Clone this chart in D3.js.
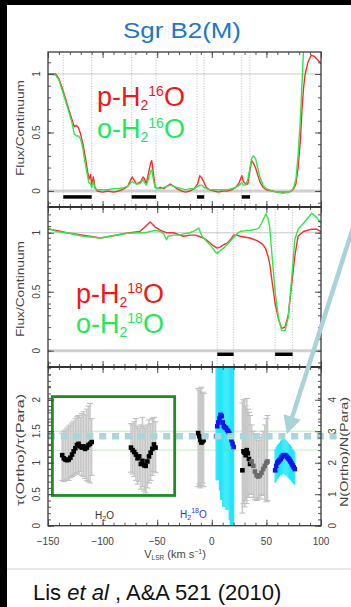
<!DOCTYPE html>
<html><head><meta charset="utf-8">
<script src="https://cdn.jsdelivr.net/npm/d3@7"></script>
<style>body{margin:0;background:#fff;} svg{display:block;font-family:"Liberation Sans",Arial,sans-serif;}</style>
</head><body><svg id="c" width="351" height="607"></svg>
<script>
// ---------- DATA ----------
const title = "Sgr B2(M)";
const vel16 = [-150,-143,-140,-137,-134,-131,-128,-126,-124,-122,
  -120,-118,-116,-114,-112.5,-111,-110,-108.5,-107,-105,
  -100,-95,-90,-85,-80,-77,-75,-73,-71,-69,
  -67,-65,-63,-62,-60,-58,-56,-55,-53.5,-52,
  -50,-47,-44,-41,-38,-35,-32,-28,-24,-20,
  -16,-13,-11,-9,-7,-5,-2,2,6,10,
  14,18,22,25,27.5,29,31,33,35,36.5,
  38,40,42,44,47,50,55,60,65,70,
  73,75,77,79,81,82.5,84,85.5,88,91,
  94,97,100];
const pH2_16O = [1.0,1.0,0.96,0.88,0.79,0.7,0.61,0.55,0.56,0.54,
  0.48,0.4,0.3,0.18,0.1,0.14,0.05,0.12,0.03,0.0,
  -0.01,0.0,-0.01,0.0,0.02,0.04,0.08,0.12,0.09,0.06,
  0.07,0.08,0.12,0.11,0.06,0.15,0.24,0.26,0.15,0.04,
  0.02,0.03,0.02,0.04,0.06,0.04,0.02,0.0,-0.01,0.0,
  0.02,0.06,0.13,0.11,0.07,0.03,0.01,0.0,-0.01,0.0,
  0.0,0.01,0.03,0.07,0.13,0.08,0.06,0.06,0.18,0.26,
  0.24,0.2,0.14,0.08,0.03,0.01,0.0,-0.01,-0.01,-0.01,
  0.0,0.02,0.06,0.2,0.42,0.68,0.88,1.0,1.1,1.16,
  1.15,1.12,1.09];
const oH2_16O = [1.0,0.99,0.95,0.86,0.77,0.68,0.58,0.49,0.47,0.47,
  0.44,0.36,0.24,0.14,0.07,0.06,0.03,0.08,0.02,0.01,
  0.01,0.01,0.02,0.02,0.03,0.04,0.06,0.08,0.07,0.06,
  0.06,0.07,0.1,0.08,0.05,0.1,0.17,0.18,0.1,0.03,
  0.02,0.02,0.03,0.04,0.05,0.04,0.03,0.02,0.01,0.02,
  0.02,0.04,0.05,0.05,0.03,0.02,0.01,0.01,0.01,0.01,
  0.01,0.02,0.03,0.05,0.07,0.05,0.05,0.1,0.2,0.28,
  0.3,0.28,0.2,0.12,0.05,0.02,0.0,-0.01,-0.02,-0.01,
  0.0,0.03,0.1,0.3,0.6,0.9,1.2,1.4,1.5,1.5,
  1.5,1.5,1.5];
const vel18 = [-150,-142,-133,-118,-102,-93,-78,-66,-61,-56.5,
  -52,-47,-44,-41.5,-40,-35,-29,-26,-20,-15,
  -12,-9,-5,0,3,5,8,11,14,17,
  20,23,26,32,35,41,43,45.5,47.5,49.5,
  51.5,53,55,58,61,64,67,70,73,76,
  79,84,91.5,96,100];
const pH2_18O = [1.03,1.02,1.0,0.98,0.955,0.97,0.995,1.01,1.05,1.09,
  1.05,1.02,1.01,1.0,1.0,1.0,0.98,0.97,0.98,0.98,
  0.97,0.96,0.94,0.9,0.88,0.87,0.88,0.9,0.91,0.94,
  0.98,0.98,0.97,0.96,0.955,0.935,0.925,0.91,0.89,0.86,
  0.8,0.74,0.6,0.4,0.27,0.19,0.2,0.3,0.55,0.8,
  0.97,1.01,1.03,1.03,1.01];
const oH2_18O = [1.04,1.01,1.0,0.97,0.955,0.97,0.995,1.0,1.0,1.01,
  1.02,1.01,0.99,0.94,0.97,0.98,0.98,0.99,1.0,1.02,
  1.04,0.97,0.93,0.88,0.84,0.825,0.85,0.87,0.9,0.93,
  0.96,0.99,1.01,1.02,1.02,1.03,1.04,1.08,1.12,1.16,
  1.12,1.05,0.82,0.5,0.28,0.17,0.17,0.28,0.6,0.94,
  1.03,1.08,1.165,1.13,1.08];
const ranges16 = [[-136,-110],[-73.4,-51],[-13.5,-7],[27.4,35]];
const ranges18 = [[5,20],[58,74]];

// ratio panel: H2O groups (black/grey) and H2-18O groups (blue)
const vA = [-137,-135.5,-134,-132.5,-131,-129.5,-128,-126.5,-125,-123.5,-122,-120.5,-119,-117.5,-116,-114.5,-113,-111.5,-110];
const tA = [1.12,1.07,1.05,1.04,1.05,1.08,1.13,1.18,1.23,1.28,1.3,1.26,1.24,1.26,1.22,1.24,1.28,1.3,1.33];
const hiA = [1.47,1.5,1.52,1.55,1.58,1.6,1.63,1.66,1.7,1.73,1.75,1.72,1.78,1.81,1.76,1.85,1.9,1.94,1.7];
const loA = [0.72,0.7,0.72,0.74,0.72,0.76,0.78,0.8,0.82,0.84,0.82,0.86,0.8,0.78,0.75,0.72,0.7,0.68,0.8];
const vB = [-74,-72.5,-71,-69.5,-68,-66.5,-65,-63.5,-62,-60.5,-59,-57.5,-56,-54.5,-53,-51.5];
const tB = [1.24,1.2,1.17,1.13,1.07,1.1,0.98,1.03,0.96,0.95,1.02,1.1,1.16,1.22,1.29,1.24];
const hiB = [1.62,1.6,1.65,1.7,1.58,1.55,1.6,1.72,1.58,1.55,1.6,1.68,1.62,1.7,1.72,1.65];
const loB = [0.85,0.82,0.78,0.72,0.66,0.7,0.58,0.62,0.55,0.52,0.6,0.68,0.72,0.8,0.86,0.84];
const vC = [-12.5,-11.5,-10.5,-9.5,-8.5,-7.5];
const tC = [1.47,1.42,1.36,1.32,1.34,1.36];
const hiC = [2.18,2.15,2.18,2.2,2.12,2.1];
const loC = [0.62,0.66,0.6,0.64,0.68,0.62];
const vD = [28,29,30,31,32,33,34,35];
const tD = [0.88,1.18,1.16,1.12,1.2,1.15,1.06,0.98];
const hiD = [1.95,2.0,1.98,1.9,2.02,1.85,1.8,1.75];
const loD = [0.2,0.35,0.3,0.4,0.35,0.45,0.45,0.5];
const vE = [36.5,38,39.5,41,42.5,44,45.5,47,48.5,50,51];
const tE = [1.02,0.95,0.86,0.8,0.78,0.8,0.84,0.9,0.95,1.0,1.02];
const hiE = [1.6,1.5,1.45,1.4,1.35,1.4,1.45,1.5,1.6,1.7,1.75];
const loE = [0.5,0.45,0.42,0.4,0.42,0.44,0.48,0.5,0.42,0.38,0.4];
const vF = [4,5,6,7,8,9,10,11,12,13,14,15,16,17,18,19,20];
const tF = [1.42,1.58,1.64,1.7,1.76,1.74,1.64,1.58,1.56,1.55,1.52,1.5,1.47,1.42,1.36,1.3,1.25];
const hiF = [3,3,3,3,3,3,3,3,3,3,3,3,3,3,3,3,3];
const loF = [0.72,0.72,0.72,0.56,0.41,0.41,0.3,0.3,0.3,0.25,0.25,0.25,0.09,0,0,0,0];
const vG = [58,59,60,61,62,63,64,65,66,67,68,69,70,71,72,73,74,75,76];
const tG = [0.88,0.95,1.0,1.02,1.04,1.06,1.09,1.11,1.12,1.12,1.11,1.09,1.07,1.05,1.02,0.99,0.96,0.93,0.9];
const hiG = [1.22,1.25,1.28,1.3,1.32,1.35,1.37,1.39,1.39,1.38,1.36,1.34,1.32,1.3,1.28,1.25,1.22,1.2,1.18];
const loG = [0.68,0.7,0.74,0.76,0.78,0.8,0.8,0.82,0.82,0.8,0.8,0.78,0.76,0.74,0.72,0.7,0.68,0.66,0.65];
const ratioRefLines = [1.5, 1.2];
const lteRatio = 1.42;
const h2oBox = {v0:-146, v1:-34, t0:0.48, t1:2.05};
const arrowFrom = [138, 5.2], arrowTo = [68.6, 1.455];

const xTickValues = [-150,-100,-50,0,50,100];
const fluxTickValues = [0,0.5,1];
const tauTickValues = [0,0.5,1,1.5,2];
const nTickValues = [0,1,2,3,4];

// ---------- DRAW ----------
const svg = d3.select('#c');
const W = 351, H = 607;
svg.append('rect').attr('width',W).attr('height',H).attr('fill','#fff');

const L = 48, R = 321;
const P1 = [52,207], P2 = [207,367], P3 = [367,525.7];
const x = d3.scaleLinear().domain([-150,100]).range([L,R]);
const y1 = d3.scaleLinear().domain([-0.137,1.188]).range([P1[1],P1[0]]);
const y2 = d3.scaleLinear().domain([-0.138,1.218]).range([P2[1],P2[0]]);
const y3 = d3.scaleLinear().domain([0,2.52]).range([P3[1],P3[0]]);
const y3r = d3.scaleLinear().domain([0,5.04]).range([P3[1],P3[0]]);

const defs = svg.append('defs');
[['c1',P1],['c2',P2],['c3',P3]].forEach(([id,p])=>{
  defs.append('clipPath').attr('id',id).append('rect')
    .attr('x',L).attr('y',p[0]).attr('width',R-L).attr('height',p[1]-p[0]);
});

const gridCol = '#c9c9c9';
function refLines(ys, clip){
  const g = svg.append('g').attr('clip-path',`url(#${clip})`);
  g.append('line').attr('x1',L).attr('x2',R).attr('y1',ys(1)).attr('y2',ys(1)).attr('stroke',gridCol).attr('stroke-width',1);
  g.append('line').attr('x1',L).attr('x2',R).attr('y1',ys(0)).attr('y2',ys(0)).attr('stroke','#d0d0d0').attr('stroke-width',3);
}
function vlines(ranges, p, clip){
  const g = svg.append('g').attr('clip-path',`url(#${clip})`);
  ranges.flat().forEach(v=>{
    g.append('line').attr('x1',x(v)).attr('x2',x(v)).attr('y1',p[0]).attr('y2',p[1])
      .attr('stroke','#b5b5b5').attr('stroke-width',0.9).attr('stroke-dasharray','1,1.6');
  });
}
function bars(ranges, ys, val){
  ranges.forEach(r=>{
    svg.append('line').attr('x1',x(r[0])).attr('x2',x(r[1])).attr('y1',ys(val)).attr('y2',ys(val))
      .attr('stroke','#000').attr('stroke-width',3.5);
  });
}
function spectrum(vel, vals, ys, color, clip){
  svg.append('path').datum(vel.map((v,i)=>[v,vals[i]]))
    .attr('clip-path',`url(#${clip})`)
    .attr('fill','none').attr('stroke',color).attr('stroke-width',1.4).attr('stroke-linejoin','round')
    .attr('d', d3.line().x(d=>x(d[0])).y(d=>ys(d[1])));
}

// Panel 1
refLines(y1, 'c1');
vlines(ranges16, P1, 'c1');
bars(ranges16, y1, -0.051);
spectrum(vel16, pH2_16O, y1, '#ff2a2a', 'c1');
spectrum(vel16, oH2_16O, y1, '#2ee84a', 'c1');

// Panel 2
refLines(y2, 'c2');
vlines(ranges18, P2, 'c2');
bars(ranges18, y2, -0.03);
spectrum(vel18, pH2_18O, y2, '#ff2a2a', 'c2');
spectrum(vel18, oH2_18O, y2, '#2ee84a', 'c2');

// Panel 3
const g3 = svg.append('g').attr('clip-path','url(#c3)');
ratioRefLines.forEach(t=>{
  g3.append('line').attr('x1',L).attr('x2',R).attr('y1',y3(t)).attr('y2',y3(t))
    .attr('stroke','#b8f2b8').attr('stroke-width',1);
});
function errGrey(vs, his, los){
  vs.forEach((v,i)=>{
    const xx = x(v), a = y3(Math.min(his[i],2.6)), b = y3(los[i]);
    g3.append('line').attr('x1',xx).attr('x2',xx).attr('y1',a).attr('y2',b).attr('stroke','#c8c8c8').attr('stroke-width',1.5);
    [a,b].forEach(yy=> g3.append('line').attr('x1',xx-3).attr('x2',xx+3).attr('y1',yy).attr('y2',yy).attr('stroke','#bcbcbc').attr('stroke-width',1));
  });
}
function errCyan(vs, his, los, w){
  vs.forEach((v,i)=>{
    const a = y3(Math.min(his[i],2.6)), b = y3(los[i]);
    g3.append('rect').attr('x',x(v-w/2)).attr('width',x(v+w/2)-x(v-w/2)).attr('y',a).attr('height',b-a)
      .attr('fill','#1fe6fb');
  });
}
function pts(vs, ts, color){
  vs.forEach((v,i)=>{
    g3.append('rect').attr('x',x(v)-2.3).attr('y',y3(ts[i])-2.3).attr('width',4.6).attr('height',4.6).attr('fill',color);
  });
}
errGrey(vA,hiA,loA); errGrey(vB,hiB,loB); errGrey(vC,hiC,loC); errGrey(vD,hiD,loD); errGrey(vE,hiE,loE);
errCyan(vF,hiF,loF,1.15); errCyan(vG,hiG,loG,1.15);
pts(vA,tA,'#000'); pts(vB,tB,'#000'); pts(vC,tC,'#000'); pts(vD,tD,'#000'); pts(vE,tE,'#6b6b6b');
pts(vF,tF,'#1414ee'); pts(vG,tG,'#1414ee');

// LTE dashed line (extends past frame)
svg.append('line').attr('x1',x(-150)).attr('x2',x(120)).attr('y1',y3(lteRatio)).attr('y2',y3(lteRatio))
  .attr('stroke','#a9d6da').attr('stroke-width',6.5).attr('stroke-dasharray','7,5.8');

// green box
svg.append('rect').attr('x',x(h2oBox.v0)).attr('y',y3(h2oBox.t1))
  .attr('width',x(h2oBox.v1)-x(h2oBox.v0)).attr('height',y3(h2oBox.t0)-y3(h2oBox.t1))
  .attr('fill','none').attr('stroke','#1f8c24').attr('stroke-width',2.8);

// frames & ticks
function frame(p){
  svg.append('rect').attr('x',L).attr('y',p[0]).attr('width',R-L).attr('height',p[1]-p[0])
    .attr('fill','none').attr('stroke','#3a3a3a').attr('stroke-width',1.3);
}
function axisG(tr, ax){
  const g = svg.append('g').attr('transform',tr).call(ax);
  g.select('.domain').remove();
  g.selectAll('line').attr('stroke','#444').attr('stroke-width',0.9);
  return g;
}
const xMinor = d3.range(-150,101,10);
function xTicks(p){
  axisG(`translate(0,${p[0]})`, d3.axisTop(x).tickValues(xMinor).tickSize(-3).tickFormat(''));
  axisG(`translate(0,${p[0]})`, d3.axisTop(x).tickValues(xTickValues).tickSize(-6).tickFormat(''));
  axisG(`translate(0,${p[1]})`, d3.axisBottom(x).tickValues(xMinor).tickSize(-3).tickFormat(''));
  axisG(`translate(0,${p[1]})`, d3.axisBottom(x).tickValues(xTickValues).tickSize(-6).tickFormat(''));
}
function yTicks(ys, minor, major){
  axisG(`translate(${L},0)`, d3.axisLeft(ys).tickValues(minor).tickSize(-3).tickFormat(''));
  axisG(`translate(${L},0)`, d3.axisLeft(ys).tickValues(major).tickSize(-6).tickFormat(''));
  axisG(`translate(${R},0)`, d3.axisRight(ys).tickValues(minor).tickSize(-3).tickFormat(''));
  axisG(`translate(${R},0)`, d3.axisRight(ys).tickValues(major).tickSize(-6).tickFormat(''));
}
const fluxMinor = d3.range(-10,12,1).map(d=>d/10);
yTicks(y1, fluxMinor, fluxTickValues);
yTicks(y2, fluxMinor, fluxTickValues);
yTicks(y3, d3.range(0,26,1).map(d=>d/10), tauTickValues);
[P1,P2,P3].forEach(p=>{frame(p); xTicks(p);});
svg.append('line').attr('x1',L).attr('x2',R).attr('y1',P1[1]).attr('y2',P1[1]).attr('stroke','#333').attr('stroke-width',2);
svg.append('line').attr('x1',L).attr('x2',R).attr('y1',P2[1]).attr('y2',P2[1]).attr('stroke','#333').attr('stroke-width',2);

// tick labels
const tickFont = 10, tickCol = '#444';
function yLabels(ys, vals, fmt, xx){
  vals.forEach(v=>{
    svg.append('text').attr('transform',`translate(${xx},${ys(v)}) rotate(-90)`)
      .attr('text-anchor','middle').attr('font-size',tickFont).attr('fill',tickCol).text(fmt(v));
  });
}
const fmtF = v=> v===0.5?'0.5':String(v);
yLabels(y1, fluxTickValues, fmtF, 40);
yLabels(y2, fluxTickValues, fmtF, 40);
yLabels(y3, tauTickValues, fmtF, 40);
yLabels(y3r, nTickValues, v=>String(v), 336);
xTickValues.forEach(v=>{
  svg.append('text').attr('x',x(v)).attr('y',545).attr('text-anchor','middle')
    .attr('font-size',tickFont).attr('fill',tickCol).text(v<0?'\u2212'+Math.abs(v):String(v));
});

// axis titles
function vTitle(txt, xx, yy, len, fs){
  svg.append('text').attr('transform',`translate(${xx},${yy}) rotate(-90)`).attr('text-anchor','middle')
    .attr('font-size',fs||11).attr('fill','#444').attr('textLength',len).attr('lengthAdjust','spacingAndGlyphs').text(txt);
}
vTitle('Flux/Continuum', 24, 128, 96);
vTitle('Flux/Continuum', 24, 289, 96);
vTitle('\u03C4(Ortho)/\u03C4(Para)', 24, 450, 112);
vTitle('N(Ortho)/N(Para)', 348, 452, 110, 10);

const xl = svg.append('text').attr('x',175).attr('y',558).attr('text-anchor','middle').attr('font-size',11).attr('fill','#444');
xl.append('tspan').text('V');
xl.append('tspan').attr('font-size',6.5).attr('dy',2).text('LSR');
xl.append('tspan').attr('dy',-2).text(' (km s');
xl.append('tspan').attr('font-size',7).attr('dy',-4).text('\u22121');
xl.append('tspan').attr('dy',4).text(')');

// legends
function legend(xx, yy, prefix, iso, color){
  const t = svg.append('text').attr('x',xx).attr('y',yy).attr('font-size',27).attr('fill',color);
  t.append('tspan').text(prefix+'-H');
  t.append('tspan').attr('font-size',14).attr('dy',4).text('2');
  t.append('tspan').attr('font-size',14).attr('dy',-14).text(iso);
  t.append('tspan').attr('dy',10).text('O');
}
legend(97, 106, 'p', '16', '#f01818');
legend(97, 138, 'o', '16', '#22e85a');
legend(76, 303, 'p', '18', '#f01818');
legend(76, 333, 'o', '18', '#22e85a');

const h2o = svg.append('text').attr('x',95).attr('y',519).attr('font-size',10).attr('fill','#333');
h2o.append('tspan').text('H');
h2o.append('tspan').attr('font-size',7).attr('dy',2).text('2');
h2o.append('tspan').attr('dy',-2).text('O');
const h218 = svg.append('text').attr('x',180).attr('y',518).attr('font-size',10).attr('fill','#3434ee');
h218.append('tspan').text('H');
h218.append('tspan').attr('font-size',7).attr('dy',2).text('2');
h218.append('tspan').attr('font-size',7).attr('dy',-7).text('18');
h218.append('tspan').attr('dy',5).text('O');

// arrow annotation
const ax0 = x(arrowFrom[0]), ay0 = y3(arrowFrom[1]), ax1 = x(arrowTo[0]), ay1 = y3(arrowTo[1]);
const dl = Math.hypot(ax1-ax0, ay1-ay0), ux = (ax1-ax0)/dl, uy = (ay1-ay0)/dl;
const bx = ax1-18*ux, by = ay1-18*uy;
svg.append('line').attr('x1',ax0).attr('y1',ay0).attr('x2',bx+2*ux).attr('y2',by+2*uy)
  .attr('stroke','#a9d3d7').attr('stroke-width',4.5);
svg.append('polygon').attr('points',[[ax1,ay1],[bx-9*uy,by+9*ux],[bx+9*uy,by-9*ux]].map(p=>p.join(',')).join(' '))
  .attr('fill','#a9d3d7');

// title & citation
svg.append('text').attr('x',182).attr('y',38).attr('text-anchor','middle').attr('font-size',22)
  .attr('fill','#1d78c8').attr('textLength',118).attr('lengthAdjust','spacingAndGlyphs').text(title);
svg.append('line').attr('x1',7).attr('x2',W).attr('y1',569).attr('y2',569).attr('stroke','#cfcfcf').attr('stroke-width',1);
const cit = svg.append('text').attr('x',33).attr('y',600).attr('font-size',22).attr('fill','#111');
cit.append('tspan').text('Lis ');
cit.append('tspan').attr('font-style','italic').text('et al');
cit.append('tspan').text(' , A&A 521 (2010)');

// outer black borders
svg.append('rect').attr('x',0).attr('y',0).attr('width',W).attr('height',5).attr('fill','#000');
svg.append('rect').attr('x',0).attr('y',0).attr('width',7).attr('height',H).attr('fill','#000');
</script></body></html>
